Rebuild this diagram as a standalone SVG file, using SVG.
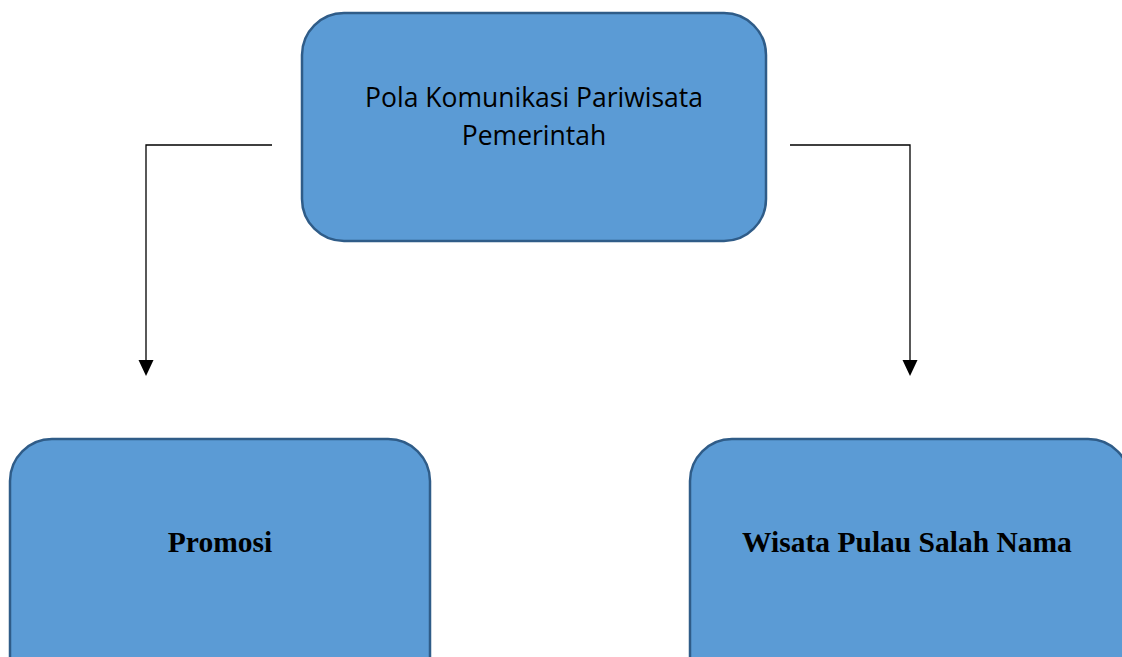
<svg xmlns="http://www.w3.org/2000/svg" width="1122" height="657" viewBox="0 0 1122 657">
<style>
.box{fill:#5B9BD5;stroke:#2F5C88;stroke-width:2.5}
.sans{font-family:"Open Sans","Liberation Sans",sans-serif;font-size:26.5px;fill:#000}
.serif{font-family:"Liberation Serif","Times New Roman",serif;font-size:29.5px;font-weight:bold;fill:#000}
.conn{fill:none;stroke:#000;stroke-width:1.3}
.head{fill:#000}
</style>
<g id="connectors">
<path class="conn" d="M272,145 H146 V362"/>
<polygon class="head" points="138.5,360 153.5,360 146,376"/>
<path class="conn" d="M790,145 H910 V362"/>
<polygon class="head" points="902.5,360 917.5,360 910,376"/>
</g>
<g id="node-top">
<rect class="box" x="302" y="13" width="464" height="228" rx="42"/>
<text class="sans" x="534" y="107" text-anchor="middle">Pola Komunikasi Pariwisata</text>
<text class="sans" x="534" y="145" text-anchor="middle">Pemerintah</text>
</g>
<g id="node-promosi">
<rect class="box" x="10" y="439" width="420" height="260" rx="42"/>
<text class="serif" x="220" y="552" text-anchor="middle">Promosi</text>
</g>
<g id="node-wisata">
<rect class="box" x="690" y="439" width="440" height="260" rx="42"/>
<text class="serif" x="907" y="552" text-anchor="middle">Wisata Pulau Salah Nama</text>
</g>
</svg>
